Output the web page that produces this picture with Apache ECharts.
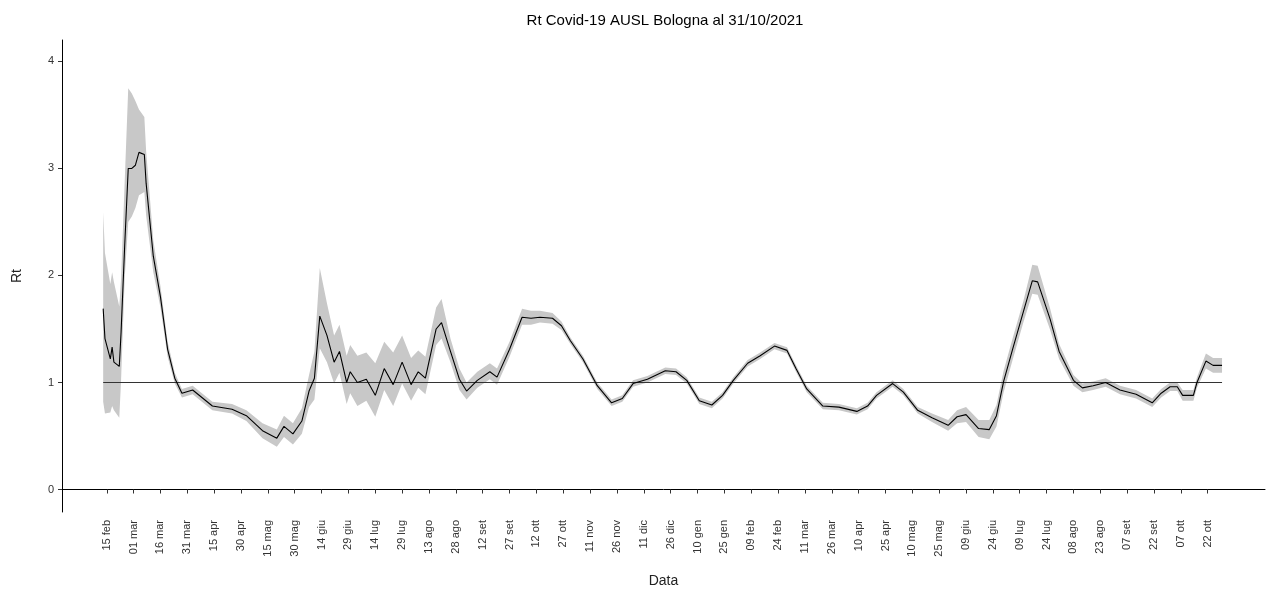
<!DOCTYPE html>
<html>
<head>
<meta charset="utf-8">
<script src="https://cdn.jsdelivr.net/npm/echarts@6/dist/echarts.min.js"></script>
<style>html,body{margin:0;padding:0;background:#fff}#chart{width:1277px;height:593px}</style>
</head>
<body>
<div id="chart"></div>
<script>
// days after 15 feb 2020
var days = [-2,-1,2,3,4,7,8,10,12,14,16,18,21,22,26,30,34,38,42,48,59,70,78,87,95,99,104,109,113,116,119,123,127,130,134,136,140,145,150,155,160,165,170,174,178,184,187,192,197,201,207,214,218,225,232,237,242,249,254,259,266,274,282,288,294,302,312,318,324,331,338,344,350,358,365,373,380,385,391,400,409,419,425,430,439,445,453,461,470,475,480,487,493,497,501,506,512,517,520,527,532,540,545,551,558,566,575,584,589,594,598,601,607,609,614,618,623];
var rt = [1.69,1.41,1.22,1.33,1.19,1.15,1.47,2.27,3.0,3.0,3.03,3.15,3.13,2.86,2.18,1.8,1.31,1.04,0.9,0.93,0.78,0.75,0.69,0.55,0.48,0.59,0.52,0.64,0.92,1.04,1.62,1.44,1.19,1.29,1.0,1.1,1.0,1.03,0.88,1.13,0.98,1.19,0.98,1.1,1.04,1.5,1.56,1.29,1.03,0.92,1.02,1.1,1.05,1.31,1.61,1.6,1.61,1.6,1.53,1.39,1.22,0.97,0.81,0.85,0.99,1.03,1.11,1.1,1.02,0.83,0.79,0.88,1.02,1.18,1.25,1.34,1.3,1.13,0.94,0.78,0.77,0.73,0.78,0.88,0.99,0.91,0.74,0.67,0.6,0.68,0.7,0.57,0.56,0.69,1.01,1.31,1.66,1.95,1.94,1.59,1.29,1.02,0.95,0.97,1.0,0.93,0.89,0.81,0.9,0.96,0.96,0.88,0.88,1.0,1.2,1.16,1.16];
var rtLow = [0.82,0.71,0.72,0.78,0.74,0.67,1.02,1.97,2.5,2.55,2.63,2.75,2.78,2.56,2.03,1.7,1.24,0.99,0.86,0.89,0.74,0.71,0.64,0.48,0.4,0.49,0.42,0.52,0.77,0.84,1.32,1.19,0.99,1.09,0.8,0.9,0.78,0.83,0.68,0.93,0.78,0.99,0.83,0.95,0.89,1.35,1.41,1.19,0.93,0.84,0.95,1.03,0.98,1.24,1.54,1.54,1.56,1.55,1.49,1.36,1.19,0.94,0.78,0.82,0.96,1.0,1.08,1.07,0.99,0.8,0.76,0.85,0.99,1.15,1.22,1.31,1.27,1.1,0.91,0.75,0.74,0.7,0.75,0.85,0.96,0.88,0.71,0.63,0.55,0.62,0.63,0.49,0.47,0.59,0.91,1.21,1.56,1.83,1.82,1.49,1.22,0.97,0.91,0.93,0.96,0.89,0.85,0.77,0.86,0.92,0.92,0.83,0.83,0.95,1.13,1.09,1.09];
var rtHigh = [2.59,2.21,1.92,2.03,1.94,1.71,1.97,2.87,3.75,3.7,3.63,3.55,3.48,3.16,2.33,1.9,1.38,1.09,0.94,0.97,0.82,0.8,0.74,0.62,0.56,0.69,0.62,0.76,1.07,1.29,2.07,1.74,1.44,1.54,1.25,1.35,1.25,1.28,1.18,1.38,1.28,1.44,1.23,1.3,1.24,1.7,1.78,1.41,1.13,1.0,1.1,1.18,1.13,1.38,1.69,1.67,1.67,1.65,1.57,1.42,1.25,1.0,0.84,0.88,1.02,1.06,1.14,1.13,1.05,0.86,0.82,0.91,1.05,1.21,1.28,1.37,1.33,1.16,0.97,0.81,0.8,0.76,0.81,0.91,1.02,0.94,0.77,0.71,0.65,0.74,0.77,0.65,0.65,0.79,1.11,1.41,1.76,2.1,2.09,1.69,1.36,1.07,0.99,1.01,1.04,0.97,0.93,0.85,0.94,1.0,1.0,0.93,0.93,1.05,1.27,1.23,1.23];
var months = ['gen','feb','mar','apr','mag','giu','lug','ago','set','ott','nov','dic'];
var axisStart = -25, axisEnd = 647, tickStep = 15;

var base = Date.UTC(2020, 1, 15);
function dayLabel(d) {
  var dt = new Date(base + d * 86400000);
  var dd = dt.getUTCDate();
  return (dd < 10 ? '0' : '') + dd + ' ' + months[dt.getUTCMonth()];
}
var cats = [];
for (var d = axisStart; d <= axisEnd; d++) cats.push(dayLabel(d) + ' ' + d);
function cat(d) { return dayLabel(d) + ' ' + d; }
function isTick(i) { var d = i + axisStart; return d >= 0 && d <= 615 && d % tickStep === 0; }

var lowData = days.map(function(d, i) { return [cat(d), rtLow[i]]; });
var bandData = days.map(function(d, i) { return [cat(d), +(rtHigh[i] - rtLow[i]).toFixed(3)]; });
var lineData = days.map(function(d, i) { return [cat(d), rt[i]]; });
var refData = [[cat(days[0]), 1], [cat(days[days.length - 1]), 1]];

var chart = echarts.init(document.getElementById('chart'));
chart.setOption({
  animation: false,
  title: { text: 'Rt Covid-19 AUSL Bologna al 31/10/2021', left: 660, textAlign: 'center', top: 8,
    textStyle: { fontFamily: 'Liberation Sans', fontWeight: 'normal', fontSize: 15, color: '#000' } },
  grid: { left: 62, right: 12, top: 40, bottom: 78 },
  xAxis: {
    type: 'category', data: cats, boundaryGap: false,
    name: 'Data', nameLocation: 'middle', nameGap: 62,
    nameTextStyle: { fontFamily: 'Liberation Sans', fontSize: 14, color: '#222' },
    axisLine: { lineStyle: { color: '#000' } },
    axisTick: { interval: function(i) { return isTick(i); }, length: 4, lineStyle: { color: '#333' } },
    axisLabel: { interval: function(i) { return isTick(i); }, rotate: 90, margin: 8,
      formatter: function(v) { return v.split(' ').slice(0, 2).join(' '); },
      fontFamily: 'Liberation Sans', fontSize: 11, color: '#333' },
    splitLine: { show: false }
  },
  yAxis: {
    type: 'value', min: -0.21, max: 4.2,
    name: 'Rt', nameLocation: 'middle', nameGap: 38,
    nameTextStyle: { fontFamily: 'Liberation Sans', fontSize: 14, color: '#222' },
    axisLine: { show: true, lineStyle: { color: '#000' } },
    axisTick: { show: true, customValues: [0, 1, 2, 3, 4], length: 4, lineStyle: { color: '#333' } },
    axisLabel: { customValues: [0, 1, 2, 3, 4], fontFamily: 'Liberation Sans', fontSize: 11, color: '#333' },
    splitLine: { show: false }
  },
  series: [
    { type: 'line', data: lowData, stack: 'band', symbol: 'none', lineStyle: { opacity: 0 }, silent: true },
    { type: 'line', data: bandData, stack: 'band', symbol: 'none', lineStyle: { opacity: 0 },
      areaStyle: { color: '#c8c8c8', opacity: 1 }, silent: true },
    { type: 'line', data: refData, symbol: 'none', lineStyle: { color: '#333', width: 1.2 } },
    { type: 'line', data: lineData, symbol: 'none', lineStyle: { color: '#000', width: 1.1 } }
  ]
});
</script>
</body>
</html>
